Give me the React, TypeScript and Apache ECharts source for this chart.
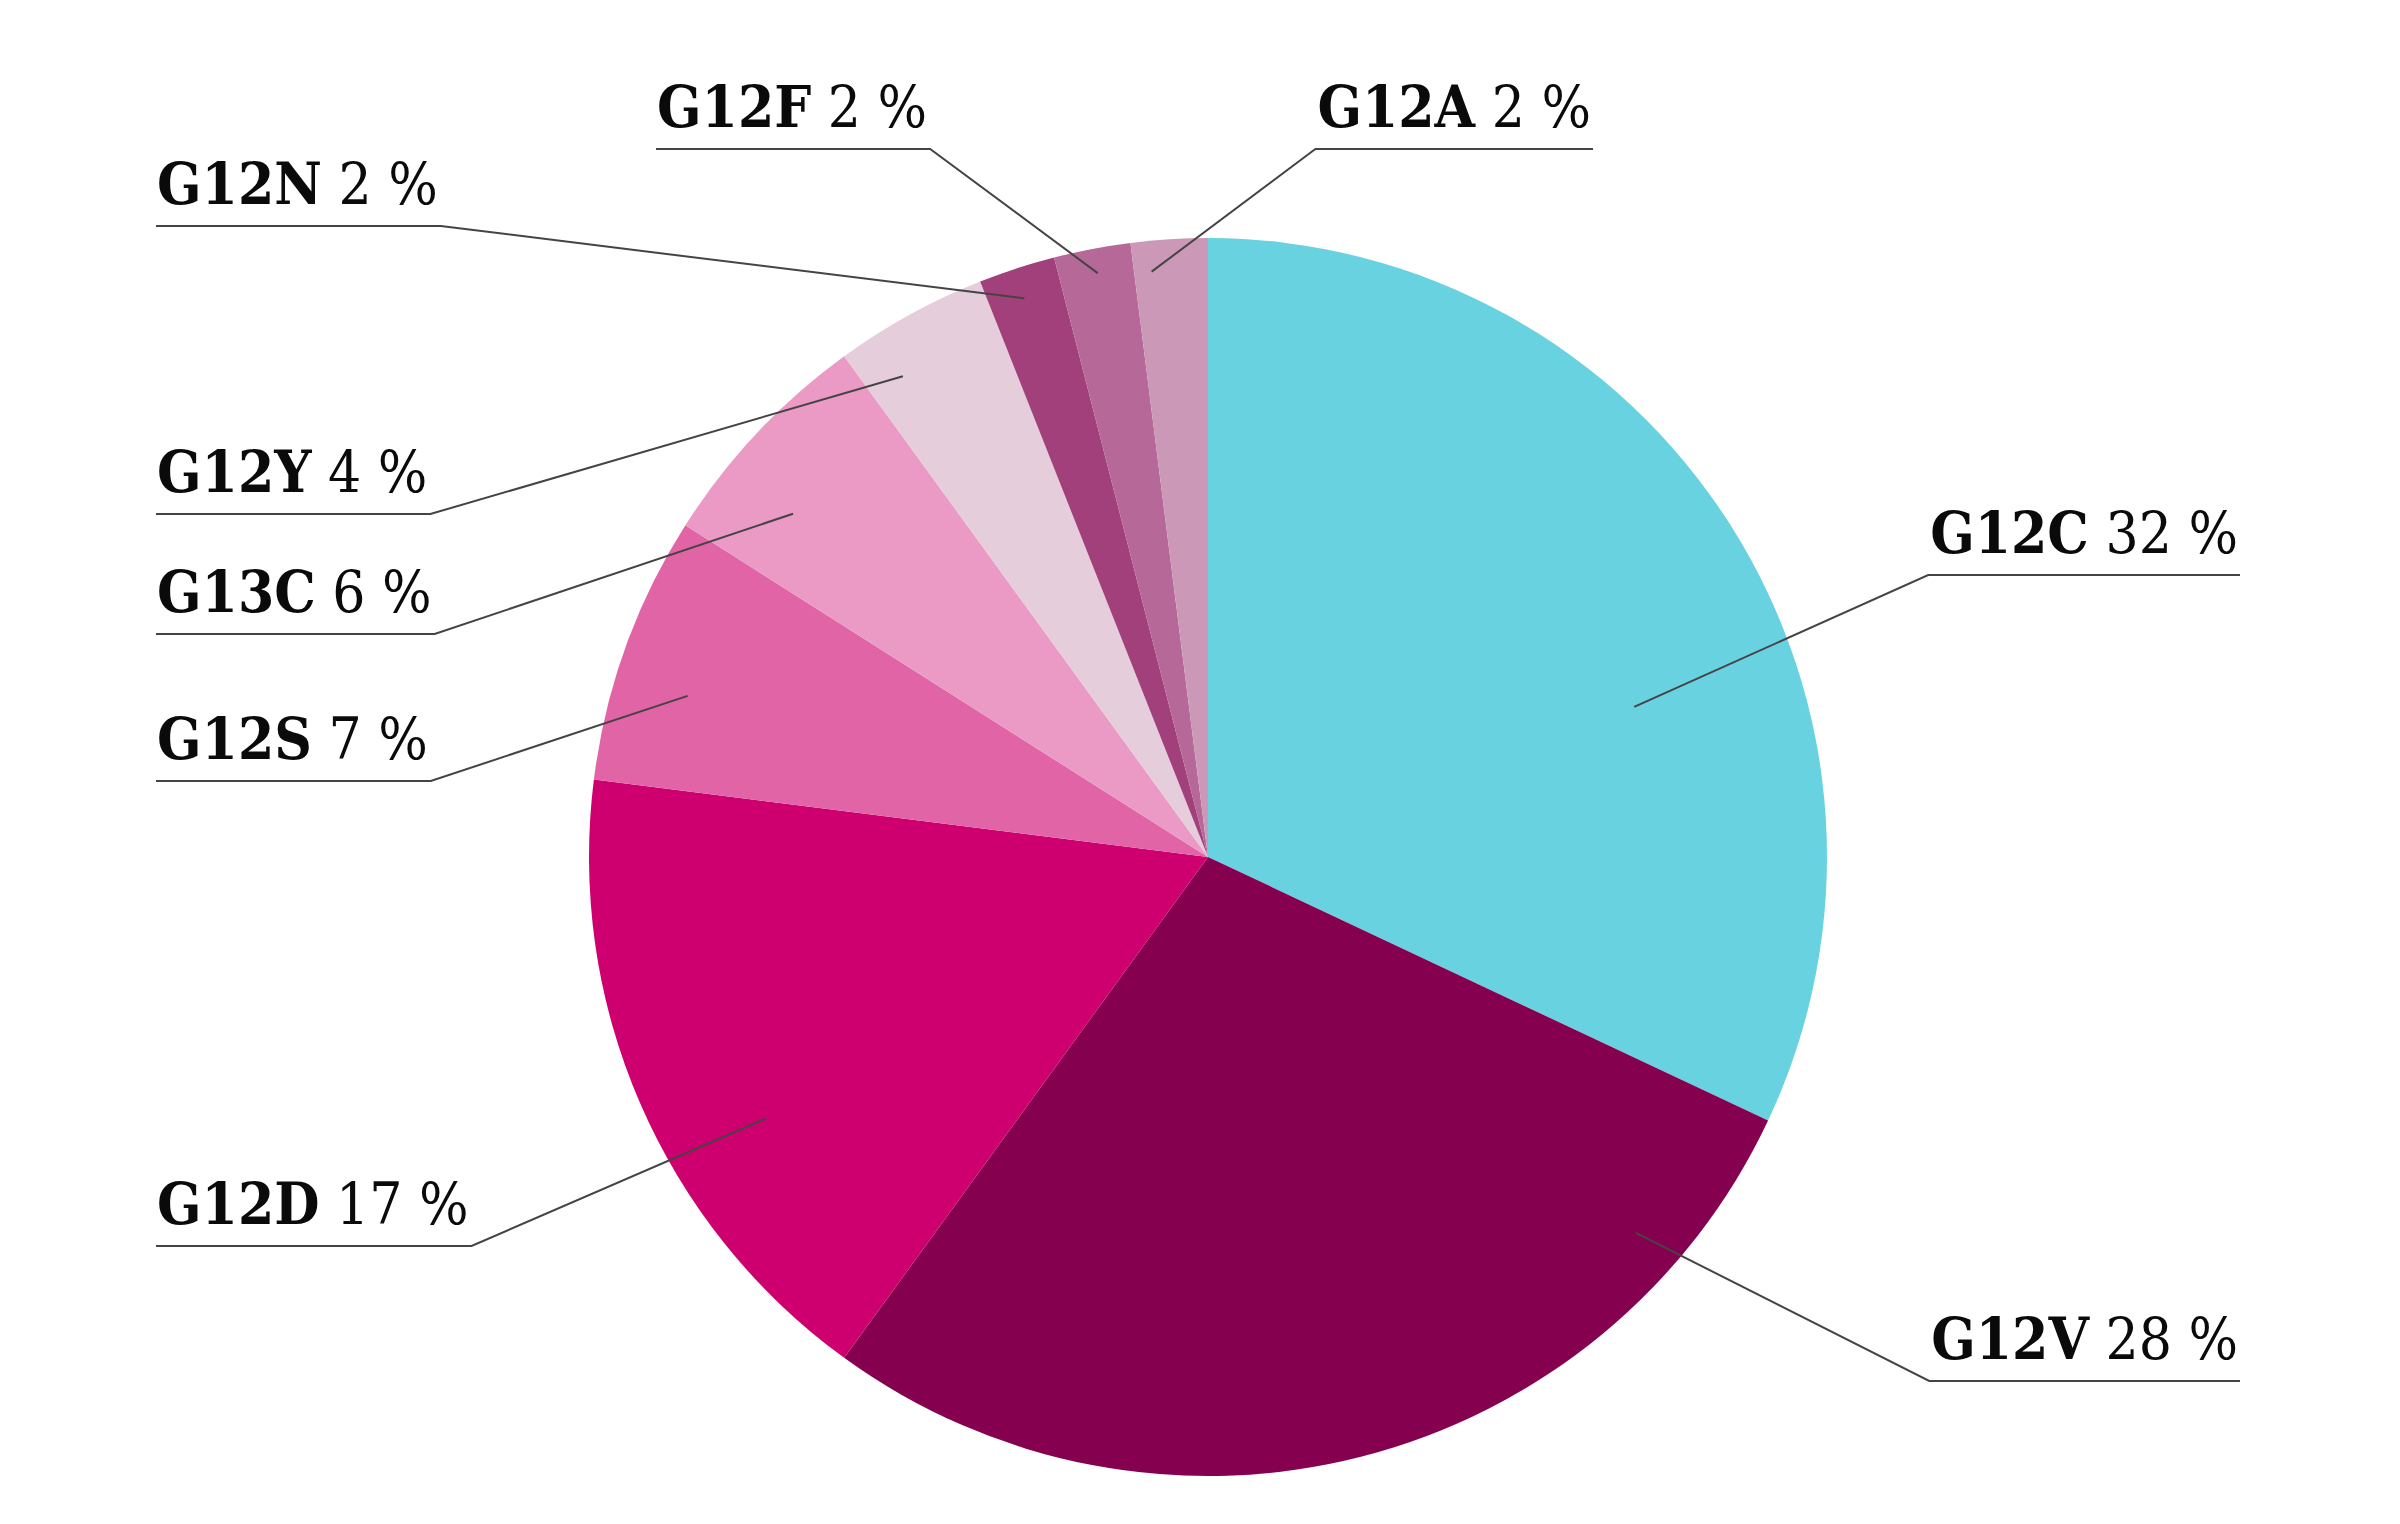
import { useEffect, useRef } from 'react';
import * as echarts from 'echarts';

// KRAS 突变类型及占比（%），从 12 点方向顺时针
const categories = ['G12C', 'G12V', 'G12D', 'G12S', 'G13C', 'G12Y', 'G12N', 'G12F', 'G12A'];
const shares = [32, 28, 17, 7, 6, 4, 2, 2, 2];

const sliceColors = [
  '#68D2E0', // 青色
  '#85004F',
  '#CE006F',
  '#E165A6',
  '#EA9AC4',
  '#E6CDDB',
  '#A1407A',
  '#B66899',
  '#CC98B7',
];

// 饼图位置（像素）
const CENTER = [1208, 857];
const RADIUS = 619;

// 标签排版：文字所在一侧、横线端点 x、横线 y、引线起点 [角度(自 12 点顺时针), 半径比例]
const labelSpots: Array<{ side: 'left' | 'right'; x: number; y: number; anchor: [number, number] }> = [
  { side: 'right', x: 2240, y: 575, anchor: [70.6, 0.73] },
  { side: 'right', x: 2240, y: 1381, anchor: [131.3, 0.92] },
  { side: 'left', x: 156, y: 1246, anchor: [239.4, 0.83] },
  { side: 'left', x: 156, y: 781, anchor: [287.2, 0.88] },
  { side: 'left', x: 156, y: 634, anchor: [309.6, 0.87] },
  { side: 'left', x: 156, y: 514, anchor: [327.6, 0.92] },
  { side: 'left', x: 156, y: 226, anchor: [341.8, 0.95] },
  { side: 'left', x: 656, y: 149, anchor: [349.3, 0.96] },
  { side: 'right', x: 1593, y: 149, anchor: [354.5, 0.95] },
];

const FONT = "'DejaVu Serif Condensed', 'DejaVu Serif', serif";
const FONT_SIZE = 58;
const LINE_COLOR = '#444444';

export default function App() {
  const chartRef = useRef<HTMLDivElement>(null);

  useEffect(() => {
    if (!chartRef.current) return;
    const chart = echarts.init(chartRef.current, undefined, { renderer: 'svg' });

    const base = {
      type: 'pie' as const,
      center: CENTER,
      radius: RADIUS,
      startAngle: 90,
      clockwise: true,
      avoidLabelOverlap: false,
      emphasis: { disabled: true },
    };

    const option: echarts.EChartsOption = {
      animation: false,
      backgroundColor: '#ffffff',
      series: [
        // 扇区
        {
          ...base,
          z: 2,
          itemStyle: { borderWidth: 0 },
          label: { show: false },
          labelLine: { show: false },
          data: categories.map((name, i) => ({
            name,
            value: shares[i],
            itemStyle: { color: sliceColors[i] },
          })),
        },
        // 透明覆盖层：只负责标签和引线，使引线画在扇区之上
        {
          ...base,
          z: 5,
          silent: true,
          itemStyle: { color: 'rgba(0,0,0,0)', borderWidth: 0 },
          data: categories.map((name, i) => ({ name, value: shares[i] })),
          label: {
            show: true,
            position: 'outside',
            formatter: (p: any) => `{n|${p.name}}{v| ${p.value} %}`,
            rich: {
              n: {
                fontFamily: FONT,
                fontWeight: 'bold',
                fontSize: FONT_SIZE,
                lineHeight: FONT_SIZE,
                color: '#0a0a0a',
              },
              v: {
                fontFamily: FONT,
                fontWeight: 'normal',
                fontSize: FONT_SIZE,
                lineHeight: FONT_SIZE,
                color: '#0a0a0a',
              },
            },
          },
          labelLine: {
            show: true,
            showAbove: true,
            length: 10,
            length2: 10,
            smooth: false,
            lineStyle: { color: LINE_COLOR, width: 2 },
          },
          labelLayout: (params: any) => {
            const spot = labelSpots[params.dataIndex];
            if (!spot) return {};
            const textW = params.labelRect.width;
            const [deg, frac] = spot.anchor;
            const rad = (deg * Math.PI) / 180;
            const start = [
              CENTER[0] + RADIUS * frac * Math.sin(rad),
              CENTER[1] - RADIUS * frac * Math.cos(rad),
            ];
            const textY = spot.y - 42;
            if (spot.side === 'left') {
              return {
                x: spot.x + 1,
                y: textY,
                align: 'left',
                verticalAlign: 'middle',
                labelLinePoints: [start, [spot.x + textW + 4, spot.y], [spot.x, spot.y]],
              };
            }
            return {
              x: spot.x - 2,
              y: textY,
              align: 'right',
              verticalAlign: 'middle',
              labelLinePoints: [start, [spot.x - textW - 4, spot.y], [spot.x, spot.y]],
            };
          },
        },
      ],
    };

    chart.setOption(option);

    return () => {
      chart.dispose();
    };
  }, []);

  return (
    <div
      ref={chartRef}
      style={{ position: 'absolute', left: 0, top: 0, width: 2400, height: 1524 }}
    />
  );
}
